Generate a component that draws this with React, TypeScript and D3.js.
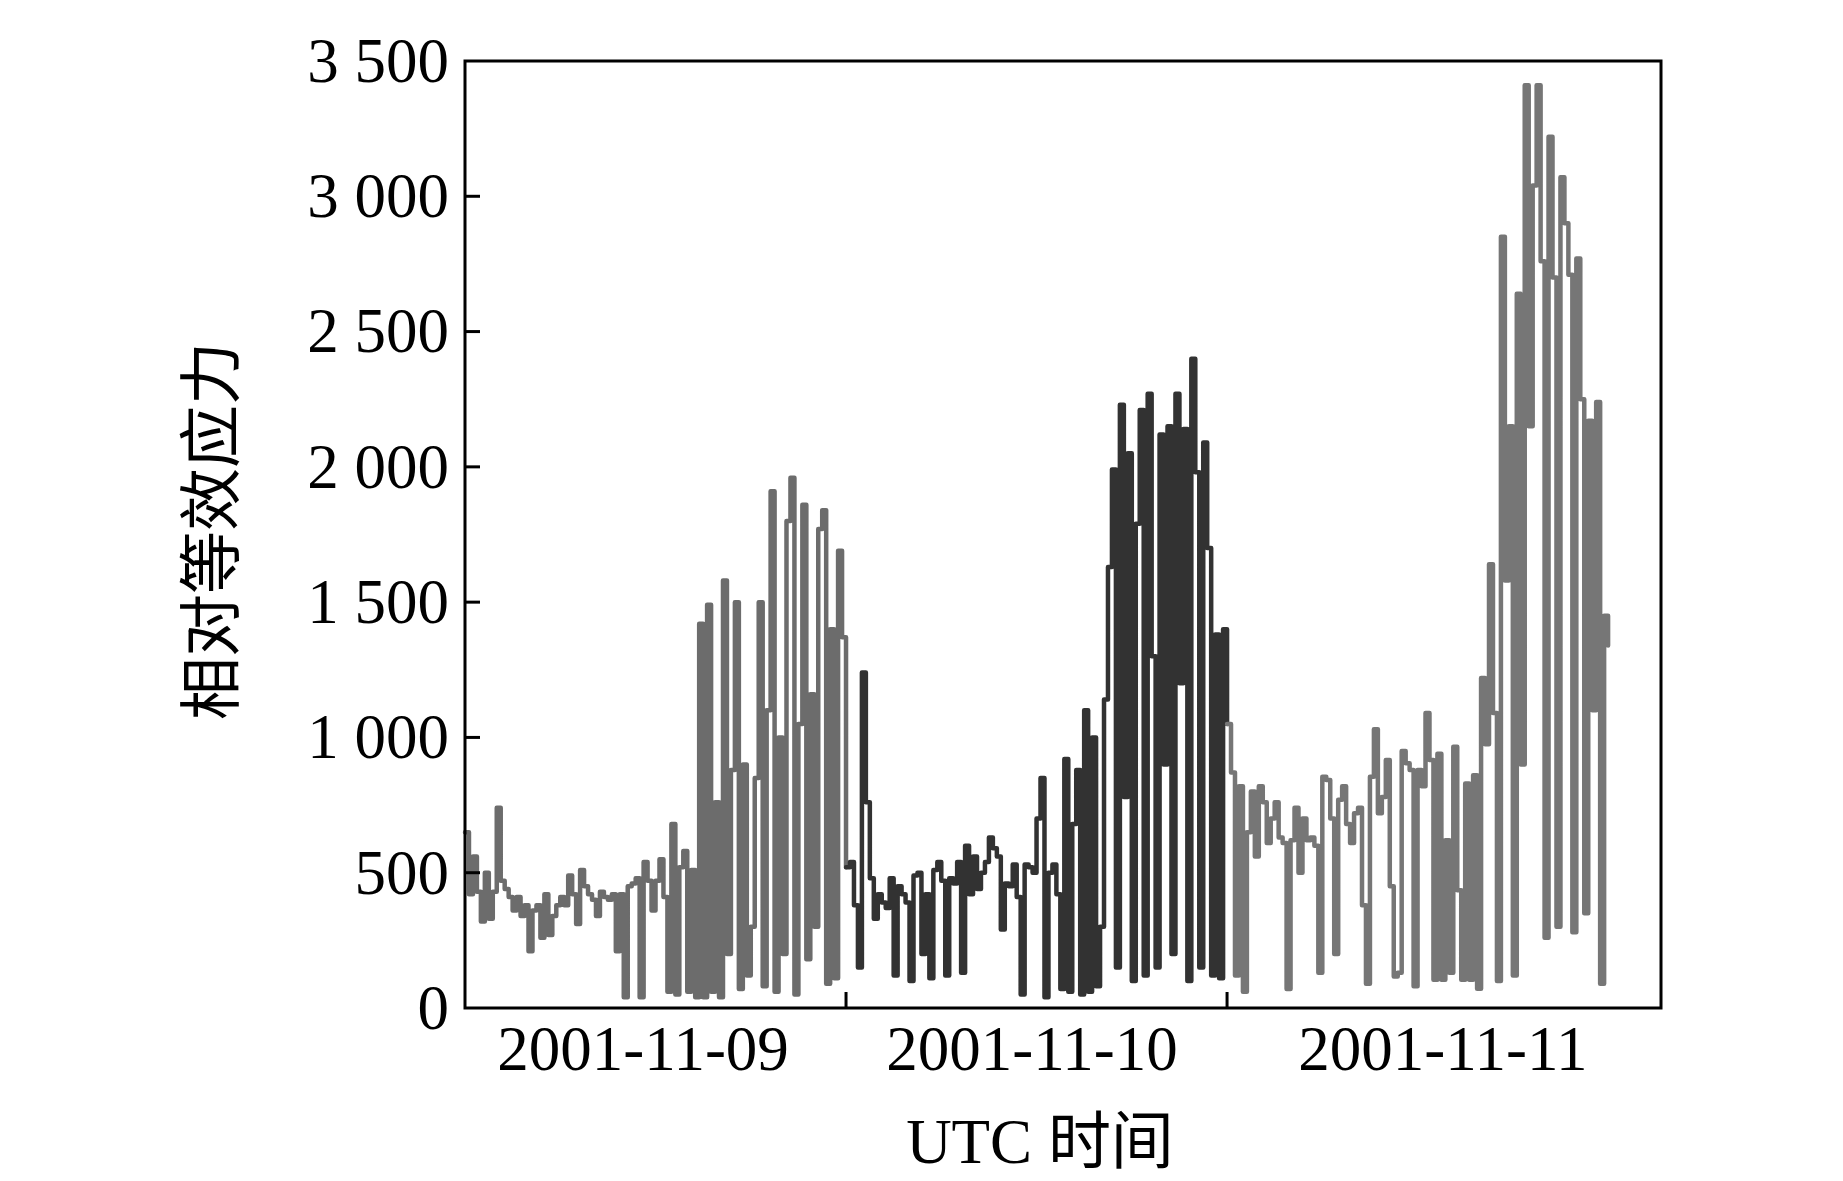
import React from "react";
import * as d3 from "d3";

// readings taken every 15 minutes from 2001-11-09 00:00 UTC
const startTime = "2001-11-09T00:00:00Z";
const stepMinutes = 15;

const day09 = [
  650, 420, 560, 430, 320, 500, 330, 430, 740, 470, 440, 410, 360, 410, 340, 380,
  210, 360, 380, 260, 420, 270, 340, 380, 410, 380, 490, 420, 310, 510, 450, 420,
  400, 340, 430, 410, 400, 420, 210, 420, 40, 450, 460, 480, 40, 540, 470, 360,
  470, 550, 410, 60, 680, 50, 520, 580, 60, 510, 40, 1420, 40, 1490, 60, 760,
  40, 1580, 200, 880, 1500, 70, 900, 120, 300, 850, 1500, 80, 1100, 1910, 60, 1000,
  200, 1800, 1960, 50, 1050, 1860, 180, 1160, 300, 1770, 1840, 90, 1400, 110, 1690, 1370,
];

const day10 = [
  520, 540, 380, 150, 1240, 760, 480, 330, 420, 390, 370, 480, 120, 450, 420, 390,
  100, 490, 500, 200, 420, 110, 510, 540, 470, 120, 480, 460, 540, 130, 600, 420,
  560, 440, 500, 540, 630, 590, 560, 290, 460, 450, 530, 410, 50, 530, 520, 500,
  700, 850, 40, 500, 530, 420, 70, 920, 60, 680, 880, 50, 1100, 60, 1000, 80,
  300, 1140, 1630, 1990, 150, 2230, 780, 2050, 100, 1790, 2210, 120, 2270, 1300, 150, 2120,
  900, 2150, 200, 2270, 1200, 2140, 100, 2400, 1980, 150, 2090, 1700, 120, 1380, 110, 1400,
];

const day11 = [
  1050, 870, 120, 820, 60, 650, 800, 560, 820, 760, 610, 700, 760, 630, 610, 70,
  620, 740, 500, 700, 620, 630, 600, 130, 855, 843, 700, 200, 770, 820, 680, 610,
  720, 740, 380, 90, 855, 1030, 720, 780, 917, 450, 116, 130, 950, 905, 880, 80,
  880, 820, 1090, 917, 104, 940, 104, 620, 130, 966, 435, 104, 830, 104, 860, 71,
  1220, 975, 1640, 1090, 100, 2850, 1580, 2150, 120, 2640, 900, 3410, 2150, 3040, 3410, 2760,
  260, 3220, 2700, 300, 3070, 2900, 2710, 280, 2770, 2250, 350, 2170, 1100, 2240, 90, 1450,
  1340,
];

const dayColors = ["#6c6c6c", "#323232", "#767676"];

const yTicks = [0, 500, 1000, 1500, 2000, 2500, 3000, 3500];
const dayTicks = ["2001-11-10T00:00:00Z", "2001-11-11T00:00:00Z"];
const dayLabels = ["2001-11-09", "2001-11-10", "2001-11-11"];
const dayLabelTimes = ["2001-11-09T11:13:00Z", "2001-11-10T11:43:00Z", "2001-11-11T13:36:00Z"];
const xDomain = ["2001-11-09T00:00:00Z", "2001-11-12T03:20:00Z"];

const xTitle = "UTC 时间";
const yTitle = "相对等效应力";

const W = 1843;
const H = 1181;
const margin = { top: 61, right: 182, bottom: 173, left: 465 };
const latin = "'Liberation Serif', 'Times New Roman', serif";
const cjk = "'Liberation Serif', 'Noto Sans CJK SC', serif";

const fmt = d3.formatLocale({ decimal: ".", thousands: " ", grouping: [3], currency: ["", ""] }).format(",");

export default function App() {
  const x = d3
    .scaleUtc()
    .domain(xDomain.map((d) => new Date(d)))
    .range([margin.left, W - margin.right]);
  const y = d3
    .scaleLinear()
    .domain([0, 3500])
    .range([H - margin.bottom, margin.top]);

  const t0 = new Date(startTime).getTime();
  const timeAt = (i) => new Date(t0 + i * stepMinutes * 60000);

  const days = [day09, day10, day11];
  let offset = 0;
  const segments = days.map((vals, k) => {
    const pts = vals.map((v, j) => ({ t: timeAt(offset + j), v }));
    const next = days[k + 1];
    if (next) pts.push({ t: timeAt(offset + vals.length), v: next[0] });
    offset += vals.length;
    return pts;
  });

  const line = d3
    .line()
    .curve(d3.curveStepAfter)
    .x((d) => x(d.t))
    .y((d) => y(d.v));

  const x0 = margin.left;
  const x1 = W - margin.right;
  const y0 = H - margin.bottom;
  const y1 = margin.top;

  return (
    <svg width={W} height={H} style={{ position: "absolute", left: 0, top: 0, background: "#fff" }}>
      <g>
        {segments.map((pts, k) => (
          <path
            key={k}
            d={line(pts)}
            fill="none"
            stroke={dayColors[k]}
            strokeWidth={4.5}
            strokeLinejoin="round"
            strokeLinecap="round"
          />
        ))}
      </g>

      {/* frame */}
      <rect x={x0} y={y1} width={x1 - x0} height={y0 - y1} fill="none" stroke="#000" strokeWidth={3} />

      {/* y axis */}
      <g>
        {yTicks.map((t) => (
          <g key={t}>
            {t > 0 && t < 3500 && <line x1={x0} x2={x0 + 15} y1={y(t)} y2={y(t)} stroke="#000" strokeWidth={3} />}
            <text
              x={x0 - 16}
              y={y(t)}
              dy="0.33em"
              textAnchor="end"
              fontFamily={latin}
              fontSize={63}
              fill="#000"
            >
              {fmt(t)}
            </text>
          </g>
        ))}
      </g>

      {/* x axis */}
      <g>
        {dayTicks.map((d) => (
          <line key={d} x1={x(new Date(d))} x2={x(new Date(d))} y1={y0} y2={y0 - 16} stroke="#000" strokeWidth={3} />
        ))}
        {dayLabels.map((lab, i) => (
          <text
            key={lab}
            x={x(new Date(dayLabelTimes[i]))}
            y={1070}
            textAnchor="middle"
            fontFamily={latin}
            fontSize={63}
            fill="#000"
          >
            {lab}
          </text>
        ))}
      </g>

      <text x={1040} y={1163} textAnchor="middle" fontFamily={cjk} fontSize={63} fill="#000">
        {xTitle}
      </text>
      <text
        transform="translate(209,531) rotate(-90)"
        dy="0.38em"
        textAnchor="middle"
        fontFamily="'Noto Sans CJK SC', sans-serif"
        fontSize={63}
        fill="#000"
      >
        {yTitle}
      </text>
    </svg>
  );
}
